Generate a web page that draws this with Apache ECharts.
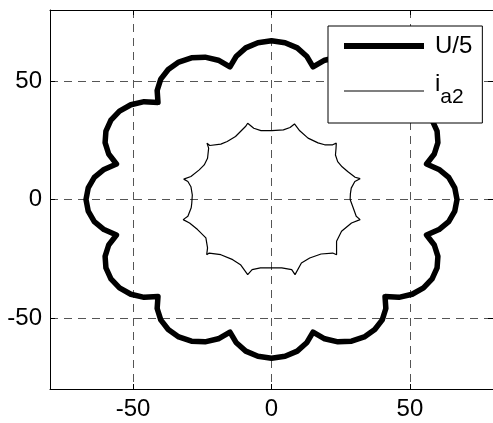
<!DOCTYPE html>
<html>
<head>
<meta charset="utf-8">
<script src="https://cdn.jsdelivr.net/npm/echarts@6/dist/echarts.min.js"></script>
<style>
  html, body { margin: 0; padding: 0; background: #fff; }
  #chart { width: 493px; height: 423px; }
</style>
</head>
<body>
<div id="chart"></div>
<script>
// U/5 outer curve (scalloped, 12 lobes)
const uX = [67, 66.2, 64.0, 60.5, 56.0, 58.8, 60.1, 59.8, 58.0, 54.9, 50.8, 46.0, 41.0, 41.3, 40.0, 37.3, 33.5, 28.9, 24.0, 19.2, 15.0, 12.7, 9.3, 4.9, 0,
  -4.9, -9.3, -12.7, -15.0, -19.2, -24.0, -28.9, -33.5, -37.3, -40.0, -41.3, -41.0, -46.0, -50.8, -54.9, -58.0, -59.8, -60.1, -58.8, -56.0, -60.5, -64.0, -66.2, -67,
  -66.2, -64.0, -60.5, -56.0, -58.8, -60.1, -59.8, -58.0, -54.9, -50.8, -46.0, -41.0, -41.3, -40.0, -37.3, -33.5, -28.9, -24.0, -19.2, -15.0, -12.7, -9.3, -4.9, 0,
  4.9, 9.3, 12.7, 15.0, 19.2, 24.0, 28.9, 33.5, 37.3, 40.0, 41.3, 41.0, 46.0, 50.8, 54.9, 58.0, 59.8, 60.1, 58.8, 56.0, 60.5, 64.0, 66.2, 67];
const uY = [0, 4.9, 9.3, 12.7, 15.0, 19.2, 24.0, 28.9, 33.5, 37.3, 40.0, 41.3, 41.0, 46.0, 50.8, 54.9, 58.0, 59.8, 60.1, 58.8, 56.0, 60.5, 64.0, 66.2, 67,
  66.2, 64.0, 60.5, 56.0, 58.8, 60.1, 59.8, 58.0, 54.9, 50.8, 46.0, 41.0, 41.3, 40.0, 37.3, 33.5, 28.9, 24.0, 19.2, 15.0, 12.7, 9.3, 4.9, 0,
  -4.9, -9.3, -12.7, -15.0, -19.2, -24.0, -28.9, -33.5, -37.3, -40.0, -41.3, -41.0, -46.0, -50.8, -54.9, -58.0, -59.8, -60.1, -58.8, -56.0, -60.5, -64.0, -66.2, -67,
  -66.2, -64.0, -60.5, -56.0, -58.8, -60.1, -59.8, -58.0, -54.9, -50.8, -46.0, -41.0, -41.3, -40.0, -37.3, -33.5, -28.9, -24.0, -19.2, -15.0, -12.7, -9.3, -4.9, 0];

// i_a2 inner curve (12 cusps)
const iX = [28.4, 28.5, 28.8, 30.1, 32.0, 30.2, 27.5, 25.5, 23.9, 23.1, 23.3, 23.4, 22.1, 19.2, 16.8,
  13.2, 10.2, 8.3, 6.7, 4.3, 0.1, -3.8, -6.4, -8.6, -9.4, -11.2, -13.0, -16.0, -18.3, -22.3,
  -23.3, -22.7, -23.1, -24.3, -26.1, -29.1, -31.7, -30.2, -29.1, -28.6, -28.8, -29.0, -30.2, -31.9, -29.6,
  -26.7, -23.7, -23.1, -23.4, -22.5, -18.3, -14.0, -11.2, -8.6, -7.0, -4.0, 0.1, 3.7, 7.3, 8.5,
  10.8, 13.8, 17.9, 22.1, 23.5, 23.5, 25.3, 28.9, 32.0, 30.6, 29.5, 28.4];
const iY = [0.0, 2.5, 4.8, 7.6, 8.8, 9.4, 11.8, 13.8, 16.0, 18.8, 21.5, 23.8, 23.1, 23.1, 23.9,
  25.9, 29.0, 31.9, 30.4, 29.4, 29.1, 29.1, 30.1, 32.2, 30.8, 28.7, 26.6, 24.5, 23.4, 22.8,
  23.8, 21.7, 17.4, 14.6, 12.5, 9.7, 8.6, 7.6, 5.4, 1.9, -1.6, -3.5, -7.1, -8.5, -9.9,
  -12.7, -16.2, -20.4, -23.3, -22.6, -23.3, -25.4, -27.5, -31.7, -29.6, -28.9, -28.9, -28.9, -29.6, -31.7,
  -26.8, -24.7, -23.0, -22.6, -23.3, -17.6, -13.4, -9.9, -8.5, -7.1, -3.5, 0.0];

const ticks = [-50, 0, 50];
const names = ['U/5', 'i_a2'];

const font = 'Liberation Sans, Arial, Helvetica, sans-serif';
const chart = echarts.init(document.getElementById('chart'));

// 坐标轴（MATLAB风格，刻度朝内）
const axisBase = (pos, showLabel) => ({
  type: 'value',
  position: pos,
  min: -80,
  max: 80,
  axisLine: { show: true, onZero: false, lineStyle: { color: '#000', width: 1 } },
  axisTick: { show: true, inside: true, length: 5, customValues: ticks, lineStyle: { color: '#000' } },
  axisLabel: {
    show: showLabel,
    customValues: ticks,
    color: '#000',
    fontSize: 24,
    fontFamily: font,
    margin: 8
  },
  splitLine: {
    show: showLabel,
    lineStyle: { color: '#555', width: 1, type: [8, 6] }
  }
});

chart.setOption({
  animation: false,
  backgroundColor: '#fff',
  grid: { left: 50, top: 10, width: 445, height: 379 },
  xAxis: [axisBase('bottom', true), axisBase('top', false)],
  yAxis: [axisBase('left', true), axisBase('right', false)],
  legend: {
    data: [
      { name: names[0], icon: 'path://M0,0H80V6H0Z', itemStyle: { color: '#000', borderWidth: 0 } },
      { name: names[1], icon: 'path://M0,0H80V1.5H0Z', itemStyle: { color: '#555', borderWidth: 0 } }
    ],
    orient: 'vertical',
    left: 328,
    top: 26,
    itemWidth: 80,
    itemHeight: 6,
    symbolKeepAspect: true,
    itemGap: 14,
    padding: [8, 10, 13, 16],
    backgroundColor: '#fff',
    borderColor: '#000',
    borderWidth: 1,
    borderRadius: 0,
    formatter: (name) => name === 'i_a2' ? '{i|i}{s|a2}' : '{n|' + name + '}',
    textStyle: {
      color: '#000',
      fontFamily: font,
      rich: {
        n: { fontSize: 24, lineHeight: 30, padding: [0, 0, 0, 6], fontFamily: font },
        i: { fontSize: 24, lineHeight: 24, padding: [0, 0, 14, 6], fontFamily: font },
        s: { fontSize: 21, lineHeight: 21, padding: [12, 0, 0, 0], fontFamily: font }
      }
    }
  },
  series: [
    {
      name: names[0],
      type: 'line',
      symbol: 'none',
      data: uX.map((x, k) => [x, uY[k]]),
      lineStyle: { color: '#000', width: 5.5, join: 'round', cap: 'round' },
      itemStyle: { color: '#000' },
      z: 3
    },
    {
      name: names[1],
      type: 'line',
      symbol: 'none',
      data: iX.map((x, k) => [x, iY[k]]),
      lineStyle: { color: '#000', width: 1.2 },
      itemStyle: { color: '#000' },
      z: 3
    }
  ]
});
</script>
</body>
</html>
